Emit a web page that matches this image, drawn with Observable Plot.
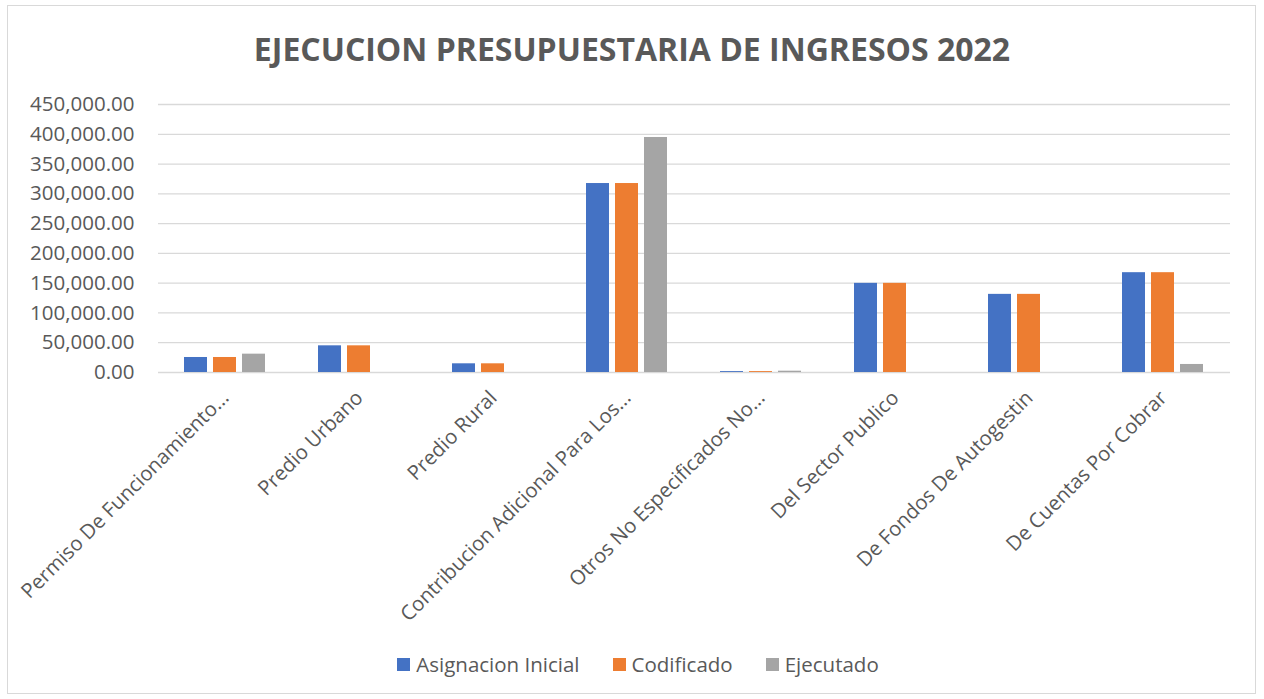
<!DOCTYPE html>
<html>
<head>
<meta charset="utf-8">
<script src="https://cdn.jsdelivr.net/npm/d3@7"></script>
<script src="https://cdn.jsdelivr.net/npm/@observablehq/plot@0.6"></script>
<style>
  html, body { margin: 0; padding: 0; background: #fff; }
  body { width: 1264px; height: 699px; position: relative; overflow: hidden; font-family: "Open Sans", sans-serif; }
  #frame { position: absolute; left: 7px; top: 5px; width: 1249px; height: 689px; border: 1px solid #d9d9d9; box-sizing: border-box; }
  #title { position: absolute; left: 7px; width: 1250px; top: 27px; text-align: center; font-weight: 700; font-size: 32px; color: #595959; letter-spacing: 0px; }
  #chart { position: absolute; left: 0; top: 90px; }
  #legend { position: absolute; left: 13px; width: 1250px; top: 650px; display: flex; justify-content: center; gap: 33px; font-size: 20.5px; color: #595959; }
  #legend .item { display: flex; align-items: center; gap: 6px; }
  #legend .sw { width: 13px; height: 13px; display: inline-block; }
</style>
</head>
<body>
<div id="frame"></div>
<div id="title">EJECUCION PRESUPUESTARIA DE INGRESOS 2022</div>
<div id="chart"></div>
<div id="legend"></div>
<script>
const categories = [
  "Permiso De Funcionamiento...",
  "Predio Urbano",
  "Predio Rural",
  "Contribucion Adicional Para Los...",
  "Otros No Especificados No...",
  "Del Sector Publico",
  "De Fondos De Autogestin",
  "De Cuentas Por Cobrar"
];
const series = ["Asignacion Inicial", "Codificado", "Ejecutado"];
const colors = ["#4472C4", "#ED7D31", "#A5A5A5"];
const asignacionInicial = [25200, 44800, 14600, 317300, 1500, 149700, 131200, 167600];
const codificado        = [25200, 44800, 14600, 317300, 1500, 149700, 131200, 167600];
const ejecutado         = [30800, 0, 0, 394600, 2200, 0, 0, 13500];
const yTicks = [0, 50000, 100000, 150000, 200000, 250000, 300000, 350000, 400000, 450000];

const valuesBySeries = [asignacionInicial, codificado, ejecutado];
const data = [];
categories.forEach((c, i) => {
  series.forEach((s, j) => data.push({category: c, series: s, value: valuesBySeries[j][i]}));
});

const fmt = d3.format(",.2f");

const plot = Plot.plot({
  width: 1264,
  height: 550,
  marginLeft: 157,
  marginRight: 33,
  marginTop: 14,
  marginBottom: 268,
  style: {fontFamily: "Open Sans", fontSize: "20px", color: "#595959", background: "transparent"},
  fx: {domain: categories, padding: 0, label: null},
  x: {domain: series, paddingInner: 0.2, paddingOuter: 0.895, axis: null},
  y: {domain: [0, 450000], label: null},
  color: {domain: series, range: colors},
  marks: [
    Plot.gridY(yTicks, {stroke: "#d9d9d9", strokeOpacity: 1, strokeWidth: 1.3}),
    Plot.barY(data, {fx: "category", x: "series", y: "value", fill: "series"}),
    Plot.axisY(yTicks, {tickSize: 0, tickPadding: 24, tickFormat: fmt, label: null, fill: "#595959", fontSize: "20.5px"}),
    Plot.axisFx({anchor: "bottom", tickRotate: -45, tickSize: 0, tickPadding: 22, label: null, fill: "#595959", fontSize: "20.3px"})
  ]
});
document.getElementById("chart").appendChild(plot);

const legend = document.getElementById("legend");
series.forEach((s, j) => {
  const item = document.createElement("span");
  item.className = "item";
  const sw = document.createElement("span");
  sw.className = "sw";
  sw.style.background = colors[j];
  const t = document.createElement("span");
  t.textContent = s;
  item.appendChild(sw);
  item.appendChild(t);
  legend.appendChild(item);
});
</script>
</body>
</html>
